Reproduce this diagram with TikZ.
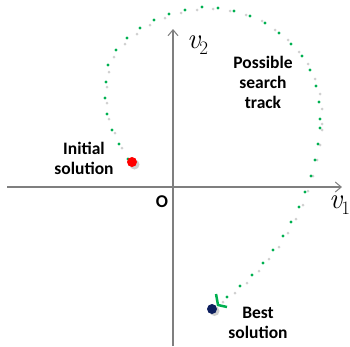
\documentclass[tikz,border=0pt]{standalone}
\usepackage{fontspec}
\newfontfamily\labfont{Carlito}
\usetikzlibrary{arrows.meta}
\definecolor{trackgreen}{HTML}{00B050}
\definecolor{shadowgray}{HTML}{D0D0D0}
\definecolor{axisgray}{HTML}{7F7F7F}
\definecolor{navyblue}{HTML}{0D1F5E}
\newcommand{\axvar}[1]{{\fontsize{29}{32}\selectfont\itshape v}\kern-1pt\raisebox{-6pt}{\fontsize{19}{21}\selectfont #1}}
\begin{document}
\begin{tikzpicture}[x=1pt,y=-1pt,
  axis/.style={draw=axisgray,line width=1.2pt,-{Straight Barb[length=6pt,width=10pt,line width=1pt]}},
  gdot/.style={fill=trackgreen},
  sdot/.style={fill=shadowgray},
  lbl/.style={font=\labfont\bfseries\fontsize{17.5}{20}\selectfont,align=center,inner sep=0pt},
  axlbl/.style={anchor=base west,inner sep=0pt},
  sol/.style={circle,inner sep=0pt,minimum size=10pt}
]
\useasboundingbox (0,0) rectangle (350,346);
% axes
\coordinate (xs) at (7,187);
\coordinate (xe) at (342,187);
\coordinate (ys) at (173,346);
\coordinate (ye) at (173,29);
\draw[axis] (xs) -- (xe);
\draw[axis] (ys) -- (ye);
% shadow track
\foreach \x/\y in {122/148,115/133,109/119,107/103,107/87,109/72,114/57,125/44,137/34,150/25,165/18,181/13,197/10,213/9,230/11,246/15,262/21,275/30,288/40,299/52,308/64,315/79,320/94,322/109,322/124,322/130,320/145,317/160,313/176,308/191,303/205,296/219,288/233,279/247,269/259,259/271,247/283,235/293,223/302}
  \fill[sdot] (\x,\y) circle (1.5pt);
% green track
\foreach \x/\y in {128/159,119/144,112/130,107/114,105/98,106/82,108/65,116/50,127/38,140/28,154/20,169/14,185/10,202/7,218/8,234/11,250/16,265/23,279/33,291/44,302/56,310/70,316/86,319/102,320/119,320/128,318/144,315/160,311/176,305/192,299/207,291/222,283/236,273/250,263/263,252/275,240/286,227/297}
  \fill[gdot] (\x,\y) circle (1.6pt);
% initial solution
\fill[shadowgray] (134.5,164.5) circle (5pt);
\node[sol,fill=red] (init) at (132,162) {};
% best solution
\draw[trackgreen,line width=2.5pt] (216,294) -- (218,305) -- (227,307);
\fill[shadowgray] (214.5,311) circle (5pt);
\node[sol,fill=navyblue] (best) at (212,309) {};
% labels
\node[lbl] (initlab) at (84,158) {Initial\\solution};
\node[lbl] (tracklab) at (263,82) {Possible\\search\\track};
\node[lbl] (bestlab) at (258,323) {Best\\solution};
\node[inner sep=0pt,font=\labfont\bfseries\fontsize{18}{20}\selectfont] (origin) at (162,202) {O};
\node[axlbl] (v2) at (187,48) {\axvar{2}};
\node[axlbl] (v1) at (329,208) {\axvar{1}};
\end{tikzpicture}
\end{document}
